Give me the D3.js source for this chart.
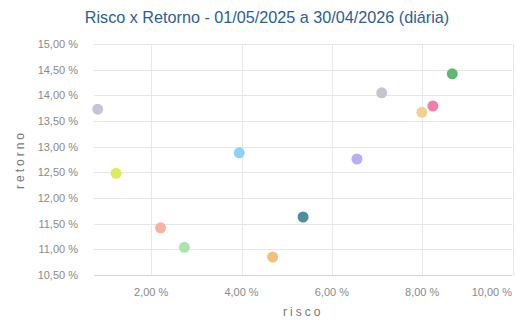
<!DOCTYPE html>
<html><head><meta charset="utf-8">
<script src="https://cdn.jsdelivr.net/npm/d3@7"></script>
<style>body{margin:0;background:#fff;}svg{display:block;font-family:"Liberation Sans",Arial,sans-serif;}</style>
</head><body><svg id="c" width="516" height="320"></svg>
<script>
const titleText = "Risco x Retorno - 01/05/2025 a 30/04/2026 (diária)";
const risco   = [0.815, 1.222, 2.207, 2.733, 3.949, 4.689, 5.362, 6.556, 7.104, 7.993, 8.237, 8.667];
const retorno = [13.73, 12.48, 11.42, 11.04, 12.88, 10.85, 11.63, 12.76, 14.05, 13.67, 13.79, 14.42];
const colors  = ["#c6c4d8", "#e0ea5c", "#f6b3a4", "#abe4b2", "#8dd2f8", "#f1c17c", "#4f8e9c", "#b3b1f3", "#c6c3d3", "#efd190", "#ee7eaa", "#5cb872"];
const xTicks = [2, 4, 6, 8, 10];
const yTicks = [10.5, 11, 11.5, 12, 12.5, 13, 13.5, 14, 14.5, 15];

const svg = d3.select("#c");
const L = 94, R = 512.5, T = 44, B = 275;
const x = d3.scaleLinear().domain([0.733, 10]).range([L, R]);
const y = d3.scaleLinear().domain([10.5, 15]).range([B, T]);
const fmt = v => v.toFixed(2).replace(".", ",") + " %";

svg.append("text").attr("x", 267).attr("y", 23).attr("text-anchor", "middle")
  .attr("font-size", 16.2).attr("fill", "#2b5f92").text(titleText);

// horizontal grid
svg.append("g").selectAll("line").data(yTicks).join("line")
  .attr("x1", L).attr("x2", R).attr("y1", d => Math.round(y(d)) + 0.5).attr("y2", d => Math.round(y(d)) + 0.5)
  .attr("stroke", "#e6e6e6");
// vertical grid
svg.append("g").selectAll("line").data(xTicks).join("line")
  .attr("y1", T).attr("y2", B).attr("x1", d => Math.round(x(d)) + 0.5).attr("x2", d => Math.round(x(d)) + 0.5)
  .attr("stroke", "#e6e6ee");
// x axis line
svg.append("line").attr("x1", L).attr("x2", R).attr("y1", B + 0.5).attr("y2", B + 0.5).attr("stroke", "#ccd6eb");

// y labels
svg.append("g").selectAll("text").data(yTicks).join("text")
  .attr("x", 78).attr("y", d => y(d) + 4).attr("text-anchor", "end")
  .attr("font-size", 11).attr("fill", "#8a8a8a").text(fmt);
// x labels (last one justified inside the chart edge)
const xMaxTick = xTicks[xTicks.length - 1];
svg.append("g").selectAll("text").data(xTicks).join("text")
  .attr("x", d => d === xMaxTick ? 512 : x(d)).attr("y", 296)
  .attr("text-anchor", d => d === xMaxTick ? "end" : "middle")
  .attr("font-size", 11).attr("fill", "#8a8a8a").text(fmt);

svg.append("text").attr("x", (L + R) / 2).attr("y", 316).attr("text-anchor", "middle")
  .attr("font-size", 12).attr("letter-spacing", 3).attr("fill", "#777").text("risco");
svg.append("text").attr("transform", `translate(24,${(T + B) / 2}) rotate(-90)`).attr("text-anchor", "middle")
  .attr("font-size", 12).attr("letter-spacing", 3).attr("fill", "#777").text("retorno");

svg.append("g").selectAll("circle").data(risco).join("circle")
  .attr("cx", (d, i) => x(d)).attr("cy", (d, i) => y(retorno[i])).attr("r", 5.5)
  .attr("fill", (d, i) => colors[i]);
</script></body></html>
